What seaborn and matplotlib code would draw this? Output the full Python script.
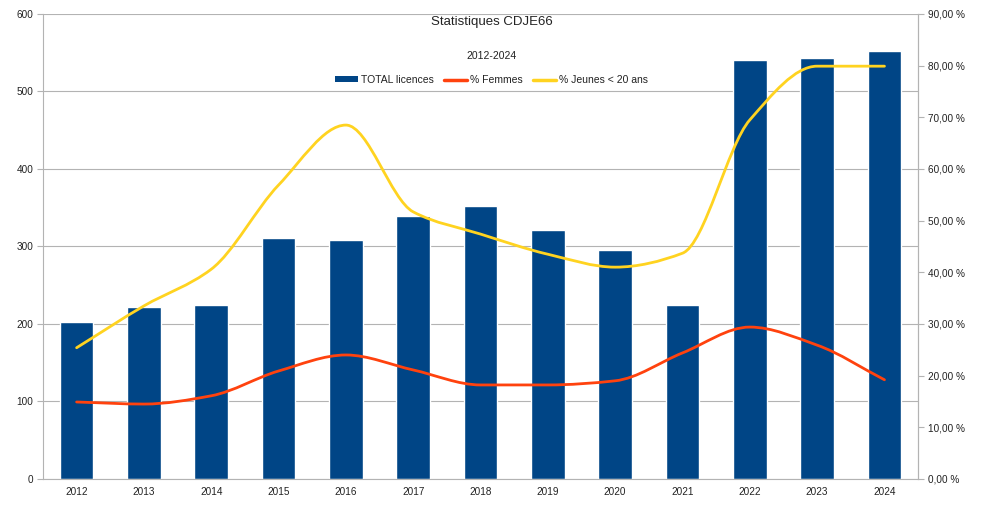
import numpy as np
import pandas as pd
import matplotlib
matplotlib.use("Agg")
import matplotlib.pyplot as plt
from matplotlib.path import Path
from matplotlib.patches import PathPatch, Patch
from matplotlib.lines import Line2D
from matplotlib.ticker import FuncFormatter, MultipleLocator
import seaborn as sns

# Data
years = ["2012", "2013", "2014", "2015", "2016", "2017", "2018",
         "2019", "2020", "2021", "2022", "2023", "2024"]
total_licences = [202, 222, 224, 311, 308, 339, 352, 321, 295, 224, 540, 543, 552]
pct_femmes = [0.149, 0.145, 0.161, 0.209, 0.240, 0.211, 0.182,
              0.182, 0.190, 0.244, 0.294, 0.259, 0.192]
pct_jeunes = [0.254, 0.335, 0.406, 0.569, 0.685, 0.517, 0.474,
              0.435, 0.410, 0.437, 0.695, 0.799, 0.799]

BLUE = "#004586"
ORANGE = "#ff420e"
YELLOW = "#ffd320"
GRID = "#b3b3b3"
TXT = "#222222"

df = pd.DataFrame({"Année": years, "TOTAL licences": total_licences})


def smooth_path(xs, ys):
    # monotone cubic (pchip-like) curve drawn as Bezier segments through the points
    xs = np.asarray(xs, float)
    ys = np.asarray(ys, float)
    h = np.diff(xs)
    d = np.diff(ys) / h
    m = np.zeros_like(ys)
    m[0], m[-1] = d[0], d[-1]
    for k in range(1, len(ys) - 1):
        if d[k - 1] * d[k] > 0:
            m[k] = 2 / (1 / d[k - 1] + 1 / d[k])
    verts = [(xs[0], ys[0])]
    codes = [Path.MOVETO]
    for i in range(len(xs) - 1):
        verts += [(xs[i] + h[i] / 3, ys[i] + m[i] * h[i] / 3),
                  (xs[i + 1] - h[i] / 3, ys[i + 1] - m[i + 1] * h[i] / 3),
                  (xs[i + 1], ys[i + 1])]
        codes += [Path.CURVE4] * 3
    return Path(verts, codes)


sns.set_style("white")
plt.rcParams["font.family"] = ["Liberation Sans", "DejaVu Sans"]

fig, ax = plt.subplots(figsize=(9.83, 5.09), dpi=100)
fig.subplots_adjust(left=0.0437, right=0.934, top=0.9725, bottom=0.059)

sns.barplot(data=df, x="Année", y="TOTAL licences", color=BLUE,
            saturation=1, width=0.5, ax=ax, zorder=2)
ax.set_xlim(-0.5, len(years) - 0.5)
ax.set_ylim(0, 600)
ax.yaxis.set_major_locator(MultipleLocator(100))
ax.set_xlabel("")
ax.set_ylabel("")
ax.grid(axis="y", color=GRID, linewidth=0.8, zorder=0)
ax.set_axisbelow(True)

ax.spines["top"].set_visible(False)
for s in ["left", "bottom", "right"]:
    ax.spines[s].set_color(GRID)
    ax.spines[s].set_linewidth(0.8)

ax.tick_params(axis="x", which="major", length=0, labelsize=7.2,
               labelcolor=TXT, pad=6)
ax.set_xticks(np.arange(-0.5, len(years)), minor=True)
ax.tick_params(axis="x", which="minor", length=4, color=GRID, width=0.8)
ax.tick_params(axis="y", length=4, color=GRID, width=0.8, labelsize=7.2,
               labelcolor=TXT, pad=3)

ax2 = ax.twinx()
ax2.set_ylim(0, 0.9)
ax2.yaxis.set_major_locator(MultipleLocator(0.1))
ax2.yaxis.set_major_formatter(
    FuncFormatter(lambda v, p: f"{v * 100:.2f} %".replace(".", ",")))
ax2.tick_params(axis="y", length=4, color=GRID, width=0.8, labelsize=7.2,
                labelcolor=TXT, pad=3)
for s in ["top", "left", "bottom"]:
    ax2.spines[s].set_visible(False)
ax2.spines["right"].set_color(GRID)
ax2.spines["right"].set_linewidth(0.8)
ax2.grid(False)

xs = np.arange(len(years))
for vals, col in [(pct_femmes, ORANGE), (pct_jeunes, YELLOW)]:
    patch = PathPatch(smooth_path(xs, vals), facecolor="none", edgecolor=col,
                      linewidth=2.0, capstyle="round", joinstyle="round",
                      transform=ax2.transData, zorder=3)
    ax2.add_patch(patch)

fig.text(0.5, 1 - 22 / 509, "Statistiques CDJE66", ha="center", va="center",
         fontsize=9.5, color=TXT)
fig.text(0.5, 1 - 56 / 509, "2012-2024", ha="center", va="center",
         fontsize=7.5, color=TXT)

handles = [Patch(facecolor=BLUE, edgecolor="none"),
           Line2D([], [], color=ORANGE, linewidth=2.5),
           Line2D([], [], color=YELLOW, linewidth=2.5)]
labels = ["TOTAL licences", "% Femmes", "% Jeunes < 20 ans"]
leg = fig.legend(handles, labels, loc="center", ncol=3,
                 bbox_to_anchor=(0.5, 1 - 80 / 509), frameon=False,
                 fontsize=7.5, handlelength=2.2, handleheight=0.45,
                 handletextpad=0.3, columnspacing=1.0)
for t in leg.get_texts():
    t.set_color(TXT)

fig.savefig("out.png", dpi=100)
